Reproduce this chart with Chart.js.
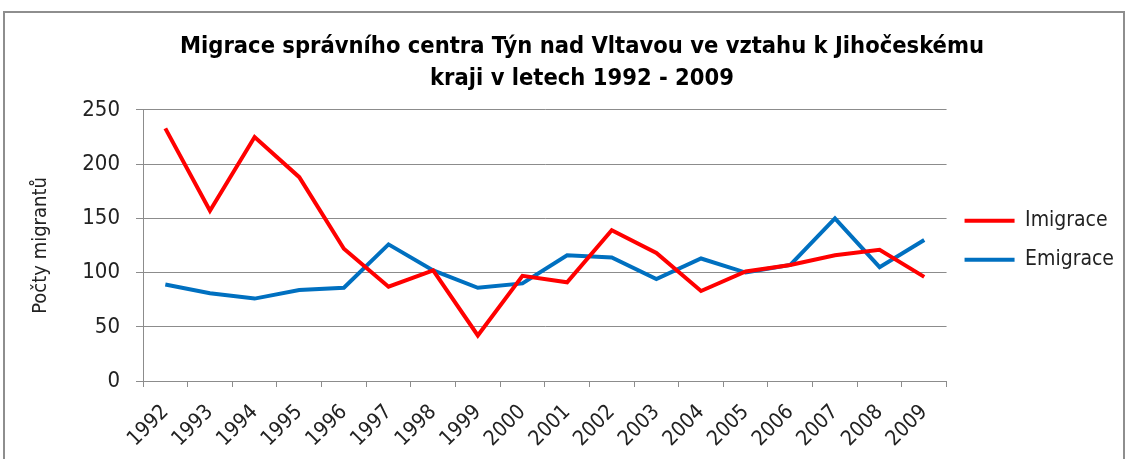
<!DOCTYPE html>
<html lang="cs">
<head>
  <meta charset="UTF-8" />
  <title>Migrace Týn nad Vltavou</title>
  <script src="https://cdn.jsdelivr.net/npm/chart.js"></script>
  <style>
    html, body {
      margin: 0;
      padding: 0;
      background: #fff;
      overflow: hidden;
    }
    /* canvas is a bit wider than the window so the title centre sits where it does in the original */
    .wrap {
      position: absolute;
      left: 0;
      top: 0;
      width: 1164px;
      height: 459px;
    }
    .frame {
      position: absolute;
      left: 3px;
      top: 11px;
      width: 1118px;
      height: 460px;
      border: 2px solid #8e8e8e;
      pointer-events: none;
    }
  </style>
</head>
<body>
  <div class="wrap"><canvas id="chart"></canvas></div>
  <div class="frame"></div>

  <script>
    const years = ["1992", "1993", "1994", "1995", "1996", "1997", "1998", "1999", "2000",
                   "2001", "2002", "2003", "2004", "2005", "2006", "2007", "2008", "2009"];
    const imigrace = [233, 157, 225, 188, 122, 87, 102, 42, 97, 91, 139, 118, 83, 101, 107, 116, 121, 96];
    const emigrace = [89, 81, 76, 84, 86, 126, 102, 86, 90, 116, 114, 94, 113, 100, 107, 150, 105, 130];
    const yTicks = [0, 50, 100, 150, 200, 250];

    const font = "'Liberation Sans Narrow', 'DejaVu Sans Condensed', 'Open Sans', sans-serif";
    const gridColor = "#8c8c8c";

    new Chart(document.getElementById("chart"), {
      type: "line",
      data: {
        labels: years,
        datasets: [
          {
            label: "Imigrace",
            data: imigrace,
            borderColor: "#ff0000",
            backgroundColor: "#ff0000",
            borderWidth: 4,
            pointRadius: 0,
            tension: 0,
            pointStyle: "line"
          },
          {
            label: "Emigrace",
            data: emigrace,
            borderColor: "#0070c0",
            backgroundColor: "#0070c0",
            borderWidth: 4,
            pointRadius: 0,
            tension: 0,
            pointStyle: "line"
          }
        ]
      },
      options: {
        responsive: true,
        maintainAspectRatio: false,
        animation: false,
        layout: { padding: { left: 40, right: 40, top: 0, bottom: 0 } },
        plugins: {
          title: {
            display: true,
            text: ["Migrace správního centra Týn nad Vltavou ve vztahu k Jihočeskému",
                   "kraji v letech 1992 - 2009"],
            color: "#000",
            font: { family: font, size: 23.5, weight: "bold", lineHeight: 1.36 },
            padding: { top: 31, bottom: 15 }
          },
          legend: {
            position: "right",
            // empty title just pushes the two entries down a little
            title: { display: true, text: " ", padding: 0, font: { size: 18 } },
            labels: {
              usePointStyle: true,
              pointStyleWidth: 50,
              padding: 18,
              color: "#222",
              font: { family: font, size: 21 }
            }
          },
          tooltip: { enabled: false }
        },
        scales: {
          x: {
            offset: true,
            afterFit: (scale) => { scale.height = 78; },
            grid: {
              display: true,
              drawOnChartArea: false,
              offset: true,
              tickLength: 6,
              color: gridColor
            },
            border: { color: gridColor },
            ticks: {
              autoSkip: false,
              minRotation: 45,
              maxRotation: 45,
              padding: 13,
              color: "#222",
              font: { family: font, size: 21 }
            }
          },
          y: {
            min: 0,
            max: 250,
            afterFit: (scale) => { scale.width = 103; },
            afterBuildTicks: (scale) => { scale.ticks = yTicks.map(v => ({ value: v })); },
            grid: { color: gridColor, tickLength: 7 },
            border: { color: gridColor },
            ticks: {
              padding: 16,
              color: "#222",
              font: { family: font, size: 22 }
            },
            title: {
              display: true,
              text: "Počty migrantů",
              color: "#222",
              padding: { top: -11 },
              font: { family: font, size: 20 }
            }
          }
        }
      }
    });
  </script>
</body>
</html>
